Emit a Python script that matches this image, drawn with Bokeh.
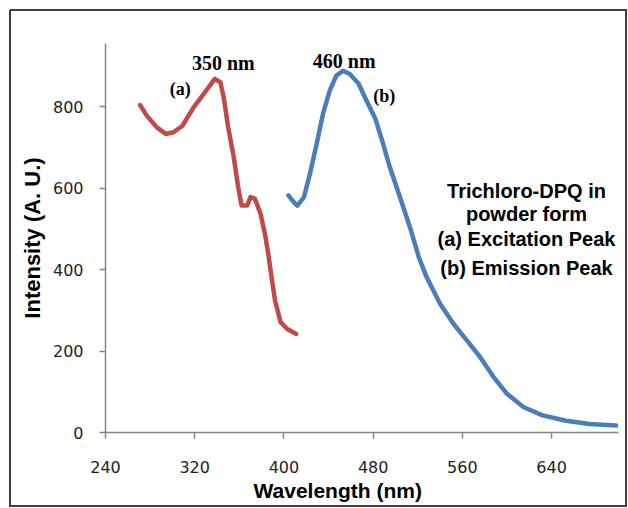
from bokeh.plotting import figure
from bokeh.models import FixedTicker, Label, Title
from bokeh.embed import file_html
from bokeh.resources import INLINE

# Excitation spectrum (a)
ex_wl = [271, 277, 286, 294, 301, 309, 319, 328, 338, 343, 346, 350, 355, 359, 362,
         367, 370, 374, 379, 383, 386, 388, 392, 397, 403, 411]
ex_int = [804, 778, 749, 733, 737, 753, 798, 831, 868, 860, 823, 749, 676, 602, 557,
          557, 578, 574, 537, 487, 438, 398, 324, 271, 254, 242]

# Emission spectrum (b)
em_wl = [404, 409, 412, 418, 424, 430, 435, 441, 447, 453, 459, 467, 474, 482, 488,
         495, 504, 513, 521, 528, 540, 552, 564, 576, 588, 600, 615, 632, 653, 674, 698]
em_int = [582, 565, 557, 578, 643, 717, 782, 839, 876, 888, 880, 856, 815, 770, 717,
          651, 578, 504, 430, 381, 316, 267, 226, 185, 136, 95, 62, 42, 29, 21, 17]

x_ticks = [240, 320, 400, 480, 560, 640]
y_ticks = [0, 200, 400, 600, 800]

block_lines = ["Trichloro-DPQ in", "powder form", "(a) Excitation Peak", "(b) Emission Peak"]

p = figure(width=628, height=508, x_range=(240, 700), y_range=(0, 955),
           output_backend="svg", toolbar_location=None,
           min_border_left=105, min_border_right=10, min_border_top=43, min_border_bottom=76)
p.background_fill_color = "white"
p.border_fill_color = None
p.outline_line_color = None
p.xgrid.visible = False
p.ygrid.visible = False

g = "linear-gradient(#404040, #404040)"
p.styles = {
    "background-color": "white",
    "background-image": ", ".join([g] * 4),
    "background-size": "617px 2px, 617px 2px, 2px 497px, 2px 497px",
    "background-position": "10px 9px, 10px 505px, 9px 10px, 625px 10px",
    "background-repeat": "no-repeat",
}

for ax in (p.xaxis[0], p.yaxis[0]):
    ax.axis_line_color = "#868686"
    ax.axis_line_width = 1.5
    ax.major_tick_line_color = "#868686"
    ax.major_tick_line_width = 1.5
    ax.major_tick_out = 6
    ax.major_tick_in = 0
    ax.minor_tick_line_color = None
    ax.major_label_text_font = "DejaVu Sans"
    ax.major_label_text_font_size = "16px"
    ax.major_label_text_color = "#222222"

p.xaxis.ticker = FixedTicker(ticks=x_ticks)
p.yaxis.ticker = FixedTicker(ticks=y_ticks)
p.xaxis.major_label_standoff = 22
p.yaxis.major_label_standoff = 16

p.yaxis.axis_label = "Intensity (A. U.)"
p.yaxis.axis_label_text_font = "Liberation Sans"
p.yaxis.axis_label_text_font_style = "bold"
p.yaxis.axis_label_text_font_size = "22px"
p.yaxis.axis_label_text_color = "black"
p.yaxis.axis_label_standoff = 5

p.add_layout(Title(text="Wavelength (nm)", align="left", offset=148, standoff=2,
                   text_font="Liberation Sans", text_font_style="bold",
                   text_font_size="21px", text_color="black"), "below")

p.line(ex_wl, ex_int, line_color="#BE4B48", line_width=4.5, line_join="round", line_cap="round")
p.line(em_wl, em_int, line_color="#4A7EBB", line_width=4.5, line_join="round", line_cap="round")

def lab(x, y, t, font, size, style="bold"):
    p.add_layout(Label(x=x, y=y, text=t, text_font=font, text_font_size=size,
                       text_font_style=style, text_align="center", text_baseline="middle",
                       text_color="black"))

lab(345.6, 908, "350 nm", "Liberation Serif", "20px")
lab(307, 843, "(a)", "Liberation Serif", "18px")
lab(454, 913, "460 nm", "Liberation Serif", "20px")
lab(490, 826, "(b)", "Liberation Serif", "18px")

for t, yy in zip(block_lines, [594, 537, 474, 405]):
    lab(617.5, yy, t, "Liberation Sans", "20px")

open("out.html", "w").write(file_html(p, INLINE))
